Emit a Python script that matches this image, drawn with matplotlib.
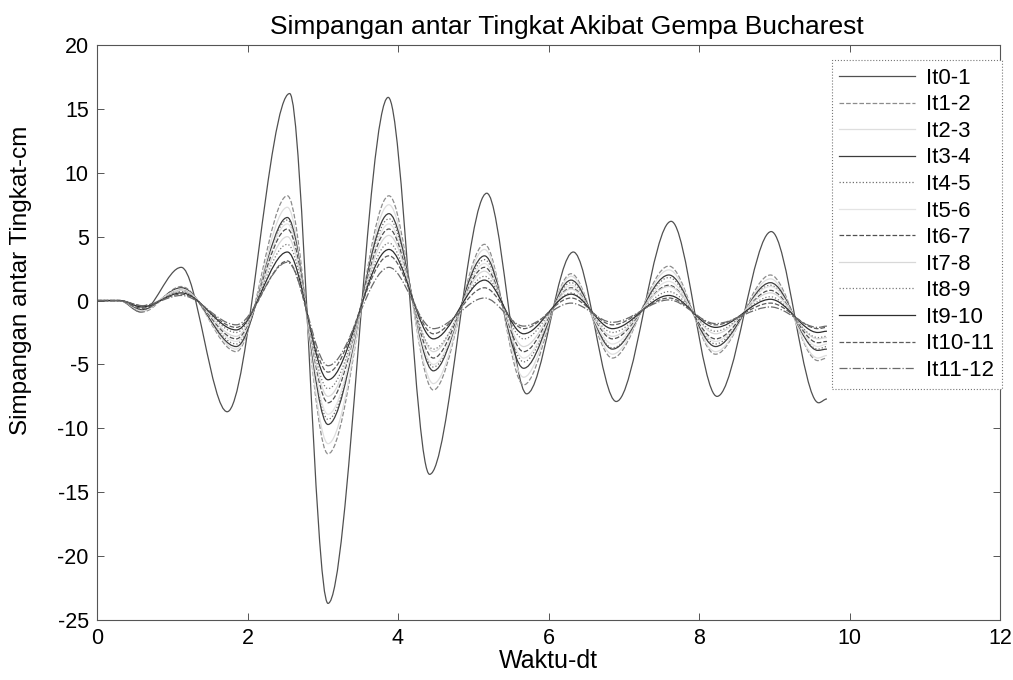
import matplotlib
matplotlib.use("Agg")
import matplotlib.pyplot as plt
from matplotlib.path import Path
from matplotlib.patches import PathPatch
from matplotlib.lines import Line2D

plt.rcParams['font.family'] = ['Liberation Sans', 'DejaVu Sans']
plt.rcParams['axes.unicode_minus'] = False

# extremum times (big curve and the smaller ones)
T_BIG = [0, 0.3, 0.58, 1.12, 1.73, 2.56, 3.07, 3.87, 4.42, 5.18, 5.71, 6.33,
         6.90, 7.63, 8.24, 8.96, 9.59, 9.70]
T_SMALL = [0, 0.3, 0.6, 1.12, 1.85, 2.53, 3.07, 3.88, 4.47, 5.15, 5.67, 6.30,
           6.85, 7.60, 8.22, 8.95, 9.58, 9.70]

labels = ['It0-1', 'It1-2', 'It2-3', 'It3-4', 'It4-5', 'It5-6',
          'It6-7', 'It7-8', 'It8-9', 'It9-10', 'It10-11', 'It11-12']

it0_1 = [0, 0, -0.9, 2.6, -8.7, 16.2, -23.7, 15.9, -13.6, 8.4, -7.3, 3.8, -7.9, 6.2, -7.5, 5.4, -8.0, -7.7]
it1_2 = [0, 0, -0.9, 1.1, -4.0, 8.2, -12.0, 8.2, -7.0, 4.4, -6.6, 2.1, -4.5, 2.7, -4.2, 2.0, -4.7, -4.5]
it2_3 = [0, 0, -0.8, 1.0, -3.8, 7.3, -11.2, 7.5, -6.5, 4.0, -6.0, 1.9, -4.2, 2.4, -4.0, 1.7, -4.5, -4.3]
it3_4 = [0, 0, -0.7, 1.0, -3.6, 6.5, -9.7, 6.8, -5.5, 3.5, -5.3, 1.6, -3.8, 2.0, -3.6, 1.4, -3.9, -3.8]
it4_5 = [0, 0, -0.7, 0.9, -3.4, 6.3, -9.3, 6.4, -5.2, 3.2, -4.8, 1.4, -3.7, 1.8, -3.4, 1.2, -3.8, -3.6]
it5_6 = [0, 0, -0.6, 0.9, -3.2, 6.0, -8.9, 6.0, -5.0, 2.9, -4.5, 1.2, -3.4, 1.5, -3.2, 1.1, -3.6, -3.4]
it6_7 = [0, 0, -0.6, 0.8, -3.0, 5.6, -8.0, 5.6, -4.5, 2.6, -4.0, 1.0, -3.0, 1.2, -3.0, 0.8, -3.3, -3.2]
it7_8 = [0, 0, -0.5, 0.8, -2.8, 5.0, -7.5, 5.1, -4.0, 2.3, -3.6, 0.9, -2.8, 1.1, -2.6, 0.6, -3.0, -2.9]
it8_9 = [0, 0, -0.5, 0.7, -2.5, 4.4, -6.9, 4.5, -3.8, 1.9, -3.0, 0.6, -2.5, 0.7, -2.4, 0.3, -2.9, -2.8]
it9_10 = [0, 0, -0.5, 0.6, -2.3, 3.8, -6.2, 4.0, -3.0, 1.6, -2.6, 0.5, -2.2, 0.4, -2.1, 0.1, -2.5, -2.4]
it10_11 = [0, 0, -0.4, 0.5, -2.1, 3.1, -5.6, 3.5, -2.6, 1.0, -2.2, 0.2, -1.9, 0.2, -1.9, -0.2, -2.2, -2.1]
it11_12 = [0, 0, -0.4, 0.4, -1.9, 3.0, -5.1, 2.6, -2.2, 0.2, -2.0, -0.2, -1.7, 0.05, -1.8, -0.5, -2.1, -2.0]

series = [it0_1, it1_2, it2_3, it3_4, it4_5, it5_6,
          it6_7, it7_8, it8_9, it9_10, it10_11, it11_12]
times = [T_BIG] + [T_SMALL] * 11

colors = ['#505050', '#8c8c8c', '#dedede', '#3c3c3c', '#6e6e6e', '#e4e4e4',
          '#505050', '#d8d8d8', '#7a7a7a', '#2e2e2e', '#5c5c5c', '#6a6a6a']
styles = ['-', '--', '-', '-', ':', '-', '--', '-', ':', '-', '--', '-.']


def smooth_path(t, y):
    # cubic segments with flat tangents at each extremum
    verts = [(t[0], y[0])]
    codes = [Path.MOVETO]
    for i in range(len(t) - 1):
        dt = t[i + 1] - t[i]
        verts += [(t[i] + dt / 3, y[i]), (t[i + 1] - dt / 3, y[i + 1]),
                  (t[i + 1], y[i + 1])]
        codes += [Path.CURVE4] * 3
    return Path(verts, codes)


fig = plt.figure(figsize=(10.13, 6.8), dpi=100)
ax = fig.add_axes([97 / 1013, 1 - 620 / 680, 903 / 1013, 575 / 680])

handles = []
for t, y, c, ls, lab in zip(times, series, colors, styles, labels):
    ax.add_patch(PathPatch(smooth_path(t, y), fill=False, ec=c, ls=ls, lw=0.9))
    handles.append(Line2D([], [], color=c, ls=ls, lw=0.9, label=lab))

ax.set_xlim(0, 12)
ax.set_ylim(-25, 20)
ax.set_xticks(range(0, 13, 2))
ax.set_yticks(range(-25, 21, 5))
ax.tick_params(direction='in', length=5, width=0.7, labelsize=15.5,
               color='#555555', pad=6, top=True, right=True)
for s in ax.spines.values():
    s.set_color('#555555')
    s.set_linewidth(0.8)

ax.set_title('Simpangan antar Tingkat Akibat Gempa Bucharest', fontsize=19,
             pad=8, x=0.52)
ax.set_xlabel('Waktu-dt', fontsize=18, labelpad=0)
ax.set_ylabel('Simpangan antar Tingkat-cm', fontsize=17.5)
ax.yaxis.set_label_coords(-0.072, 0.59)

leg = ax.legend(handles=handles, loc='upper right',
                bbox_to_anchor=(1.002, (620 - 60) / 575), borderaxespad=0,
                fontsize=16, fancybox=False, framealpha=1, edgecolor='#777777',
                labelspacing=0.25, handlelength=3.4, handletextpad=0.5,
                borderpad=0.35)
leg.get_frame().set_linewidth(0.8)
leg.get_frame().set_linestyle(':')

fig.savefig('out.png', dpi=100)
